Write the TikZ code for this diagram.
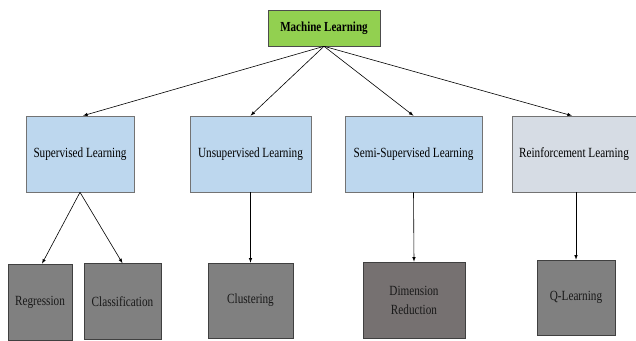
\documentclass[tikz,border=0pt]{standalone}
\usepackage{fontspec}
\setmainfont{Liberation Serif}[FakeStretch=0.8]
\usetikzlibrary{arrows,positioning}

\tikzset{
  root/.style={draw=black!70,fill={rgb,255:red,146;green,208;blue,80},minimum width=112pt,minimum height=36pt,inner sep=0pt,font=\fontsize{13.8}{15}\selectfont\bfseries},
  kind/.style={draw=black!55,fill={rgb,255:red,189;green,215;blue,238},minimum height=76pt,inner sep=0pt,font=\fontsize{14}{16}\selectfont},
  algo/.style={draw=black!75,fill={rgb,255:red,128;green,128;blue,128},minimum height=76pt,inner sep=0pt,align=center,text=black!90,font=\fontsize{14}{19}\selectfont},
}

\begin{document}
\begin{tikzpicture}[x=1pt,y=-1pt,>=latex,line width=0.6pt]
  \useasboundingbox (0,0) rectangle (636,340);
  \node[root]                    (ml)    at (324,28)    {Machine Learning};
  \node[kind,minimum width=108pt] (sup)   at (80,154)    {Supervised Learning};
  \node[kind,minimum width=121pt] (unsup) at (250.5,154) {Unsupervised Learning};
  \node[kind,minimum width=137pt] (semi)  at (413.5,154) {Semi-Supervised Learning};
  \node[kind,minimum width=124pt,fill={rgb,255:red,214;green,220;blue,228}] (rl) at (574,154) {Reinforcement Learning};
  \node[algo,minimum width=64pt]  (reg)   at (40,302)    {Regression};
  \node[algo,minimum width=77pt]  (cls)   at (122.5,301.5) {Classification};
  \node[algo,minimum width=85pt,minimum height=75pt] (clu) at (250.5,300.5) {Clustering};
  \node[algo,minimum width=102pt,fill={rgb,255:red,118;green,113;blue,113}] (dim) at (414,300) {Dimension\\Reduction};
  \node[algo,minimum width=78pt,minimum height=75pt] (ql) at (576,297.5) {Q-Learning};
  \path[->] (ml.south) edge ([xshift=3pt]sup.north)
            (ml.south) edge (unsup.north)
            (ml.south) edge (semi.north)
            (ml.south) edge ([xshift=-2pt]rl.north)
            (sup.south) edge ([xshift=2pt]reg.north)
            (sup.south) edge (cls.north)
            (unsup.south) edge (clu.north)
            (semi.south) edge (dim.north)
            ([xshift=2pt]rl.south) edge (ql.north);
\end{tikzpicture}
\end{document}
